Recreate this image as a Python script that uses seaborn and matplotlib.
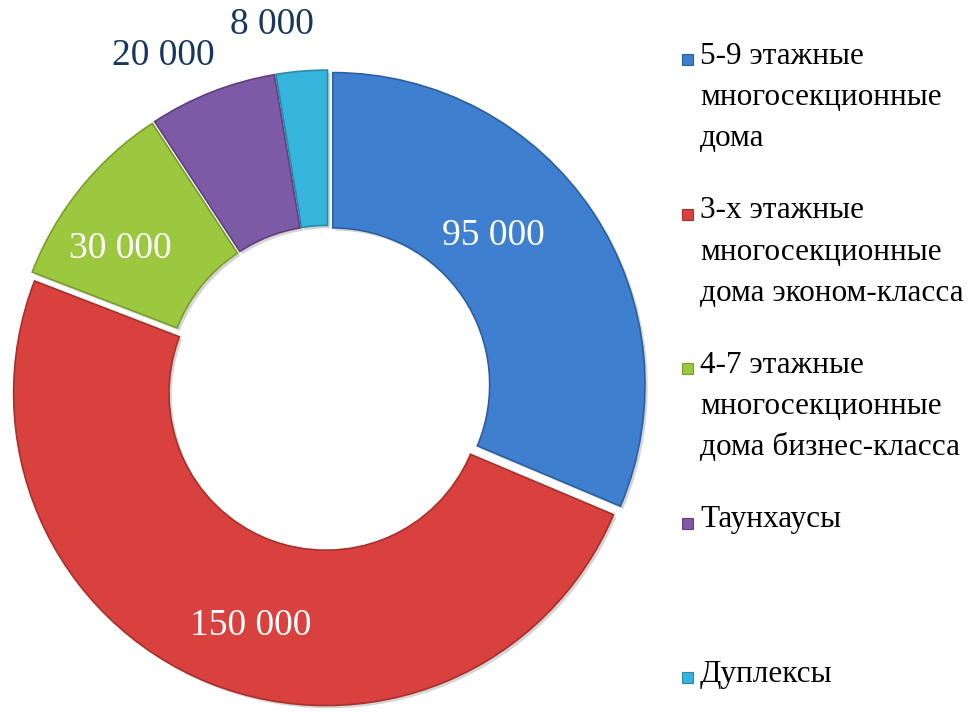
import numpy as np
import seaborn as sns
import matplotlib
matplotlib.use("Agg")
import matplotlib.pyplot as plt
from matplotlib.patches import Rectangle
import matplotlib.patheffects as pe

# data
categories = [
    "5-9 этажные\nмногосекционные\nдома",
    "3-х этажные\nмногосекционные\nдома эконом-класса",
    "4-7 этажные\nмногосекционные\nдома бизнес-класса",
    "Таунхаусы",
    "Дуплексы",
]
values = [95000, 150000, 30000, 20000, 8000]
value_labels = ["95 000", "150 000", "30 000", "20 000", "8 000"]

# styling
colors = ["#3f7fd0", "#d8413d", "#9cc83f", "#7d5aa6", "#35b5dc"]
edge_colors = ["#2b5f9e", "#a8302c", "#7a9e2c", "#5d3f80", "#2a8aaa"]
label_colors = ["white", "white", "white", "#17375e", "#17375e"]
label_radius = [0.71, 0.79, 0.79, 1.17, 1.16]
label_shift = [9, 4, 5, 5, 4]  # degrees, counter-clockwise

sns.set_theme(style="white")
plt.rcParams["font.family"] = ["Liberation Serif", "DejaVu Serif"]

W, H = 974, 714
cx, cy, scale = 328, 388, 317  # pixel centre and radius of the ring

fig = plt.figure(figsize=(W / 100, H / 100), dpi=100)
ax = fig.add_axes([0, 0, 1, 1])

wedges, _ = ax.pie(
    values,
    colors=colors,
    startangle=90,
    counterclock=False,
    explode=[0.018] * len(values),
    radius=0.985,
    wedgeprops=dict(width=0.49, linewidth=1.2),
    frame=True,
)
ax.set_xlim(-cx / scale, (W - cx) / scale)
ax.set_ylim(-(H - cy) / scale, cy / scale)
ax.set_aspect("auto")
ax.axis("off")

for w, ec in zip(wedges, edge_colors):
    w.set_edgecolor(ec)
    w.set_path_effects([pe.SimplePatchShadow(offset=(2, -2), shadow_rgbFace="#888888", alpha=0.35),
                        pe.Normal()])

for i, w in enumerate(wedges):
    mid = np.deg2rad((w.theta1 + w.theta2) / 2 + label_shift[i])
    r = label_radius[i]
    ax.text(r * np.cos(mid), r * np.sin(mid), value_labels[i],
            ha="center", va="center", fontsize=27, color=label_colors[i])

# legend, one entry per slice
leg_top = 1 - 42 / H
leg_step = 154.5 / H
for i, (lab, col) in enumerate(zip(categories, colors)):
    y = leg_top - i * leg_step
    fig.text(700 / W, y, lab, ha="left", va="top", fontsize=22.5,
             color="black", linespacing=1.55)
    fig.patches.append(Rectangle((682 / W, y - 23 / H), 11 / W, 11 / H,
                                 transform=fig.transFigure, facecolor=col,
                                 edgecolor=edge_colors[i], linewidth=0.8))

plt.savefig("out.png", dpi=100)
plt.close()
